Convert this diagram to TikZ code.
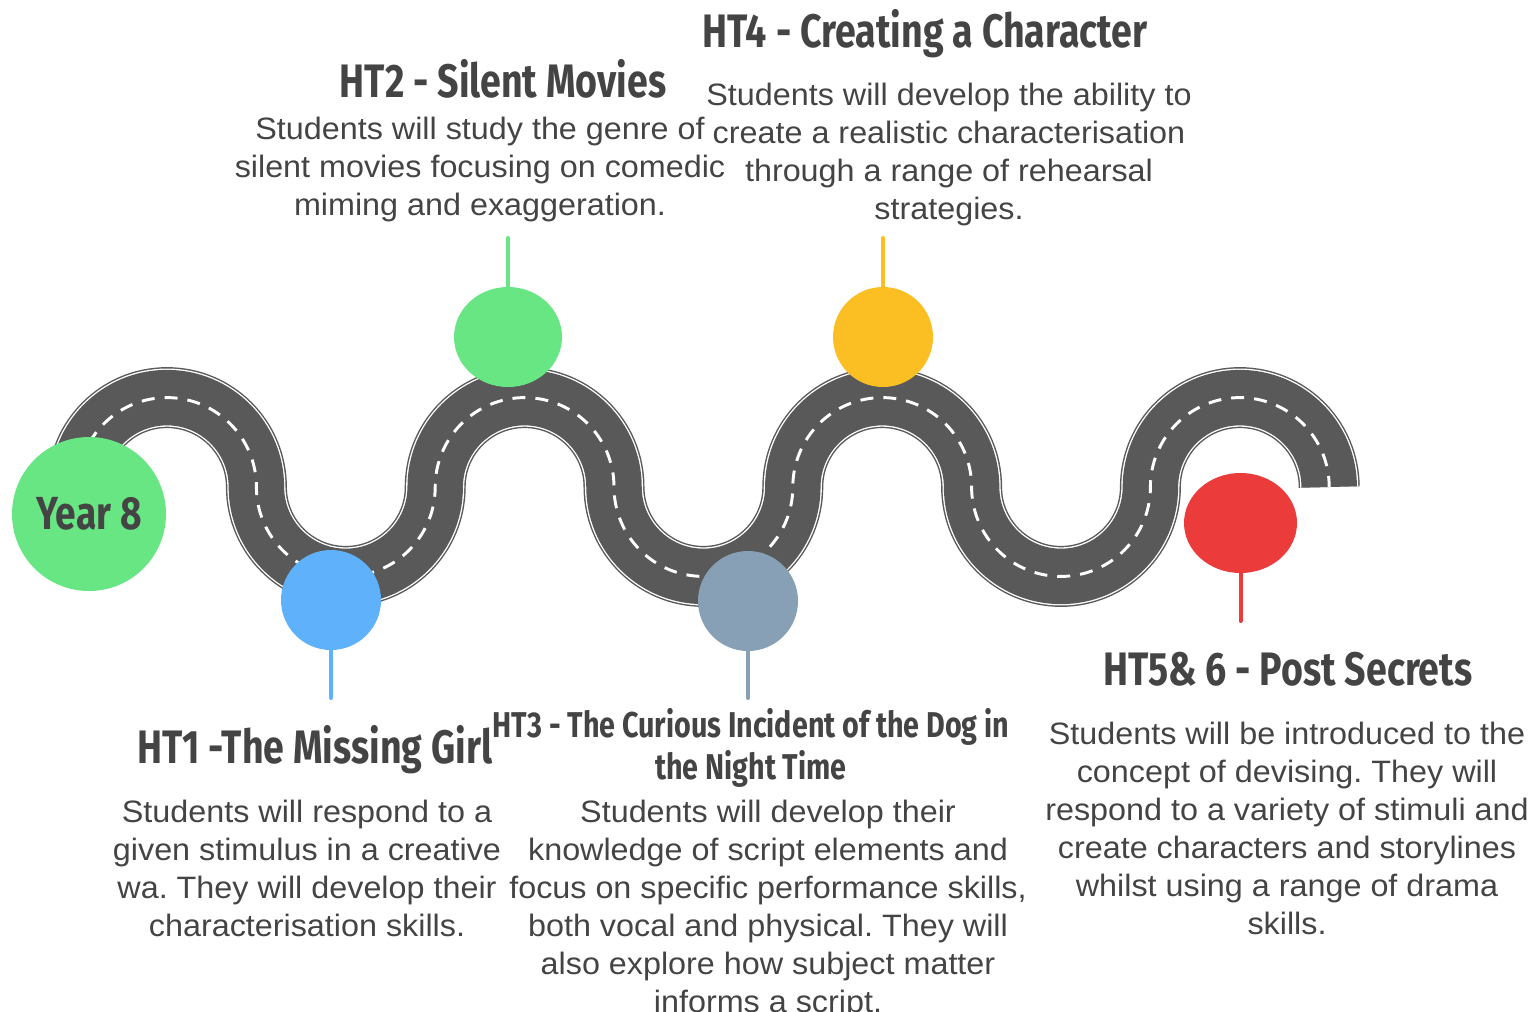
\documentclass[tikz,border=0pt]{standalone}
\usepackage{fontspec}
\setmainfont{Liberation Sans}[FakeStretch=1.045]
\newfontfamily\headfont[FakeStretch=0.8]{Fira Sans}
\usetikzlibrary{shapes.geometric}
\frenchspacing

\definecolor{ink}{HTML}{444444}
\definecolor{asphalt}{HTML}{595959}
\definecolor{mint}{HTML}{68E683}
\definecolor{sky}{HTML}{5EB1FA}
\definecolor{steel}{HTML}{87A0B5}
\definecolor{amber}{HTML}{FBBF24}
\definecolor{scarlet}{HTML}{EC3B3B}

\begin{document}
\begin{tikzpicture}[x=0.75pt, y=-0.75pt,
  dot/.style={circle, minimum size=75pt, inner sep=0pt},
  oval/.style={ellipse, minimum height=75pt, inner sep=0pt},
  stem/.style={line width=3pt, line cap=round},
  head/.style={font=\headfont\bfseries\fontsize{#1}{31.5}\selectfont, text=ink, inner sep=0pt, anchor=base},
  body/.style={font=\fontsize{23.2}{28.4}\selectfont, text=ink, align=center, inner sep=0pt, anchor=base}]

  \useasboundingbox (0,0) rectangle (1534,1011);

  % the road
  \draw[asphalt, line width=45.75pt,
        postaction={draw, white, line width=43.6pt},
        postaction={draw, asphalt, line width=41.6pt},
        postaction={draw, white, line width=2.2pt, dash pattern=on 9.75pt off 7.5pt}]
    (77.6,487) \foreach \k in {1,2,3} {
      arc[start angle=180, end angle=360, radius=89.4]
      arc[start angle=180, end angle=0, radius=89.4]}
    arc[start angle=180, end angle=360, radius=89.4];

  % milestones
  \node[dot, minimum size=115.5pt, fill=mint, font=\headfont\bfseries\fontsize{34.8}{36}\selectfont, text=ink] (year) at (89,514) {Year 8};
  \node[dot, fill=sky] (ht1) at (331,600) {};
  \node[oval, minimum width=81pt, fill=mint] (ht2) at (508,337) {};
  \node[dot, fill=steel] (ht3) at (748,601) {};
  \node[dot, fill=amber] (ht4) at (883,337) {};
  \node[oval, minimum width=84.75pt, fill=scarlet] (ht5) at (1240.5,523) {};

  \coordinate (ht1end) at (331,698);
  \coordinate (ht2end) at (508,238);
  \coordinate (ht3end) at (748,698);
  \coordinate (ht4end) at (883,238);
  \coordinate (ht5end) at (1240.5,621);
  \draw[stem, sky] (ht1) -- (ht1end);
  \draw[stem, mint] (ht2) -- (ht2end);
  \draw[stem, steel] (ht3) -- (ht3end);
  \draw[stem, amber] (ht4) -- (ht4end);
  \draw[stem, scarlet] (ht5) -- (ht5end);

  % labels (base = last line)
  \node[head=35.2] (ht1head) at (315,763) {HT1 -The Missing Girl};
  \node[body] (ht1text) at (307,936) {Students will respond to a\\given stimulus in a creative\\wa. They will develop their\\characterisation skills.};

  \node[head=35.2] (ht2head) at (503,97) {HT2 - Silent Movies};
  \node[body] (ht2text) at (480,215) {Students will study the genre of\\silent movies focusing on comedic\\miming and exaggeration.};

  \node[head=26.9, align=center] (ht3head) at (751,779) {HT3 - The Curious Incident of the Dog in\\the Night Time};
  \node[body] (ht3text) at (768,1012) {Students will develop their\\knowledge of script elements and\\focus on specific performance skills,\\both vocal and physical. They will\\also explore how subject matter\\informs a script.};

  \node[head=35.2] (ht4head) at (925,47) {HT4 - Creating a Character};
  \node[body] (ht4text) at (949,219.5) {Students will develop the ability to\\create a realistic characterisation\\through a range of rehearsal\\strategies.};

  \node[head=35.2] (ht5head) at (1288,685) {HT5\& 6 - Post Secrets};
  \node[body] (ht5text) at (1287,934) {Students will be introduced to the\\concept of devising. They will\\respond to a variety of stimuli and\\create characters and storylines\\whilst using a range of drama\\skills.};
\end{tikzpicture}
\end{document}
